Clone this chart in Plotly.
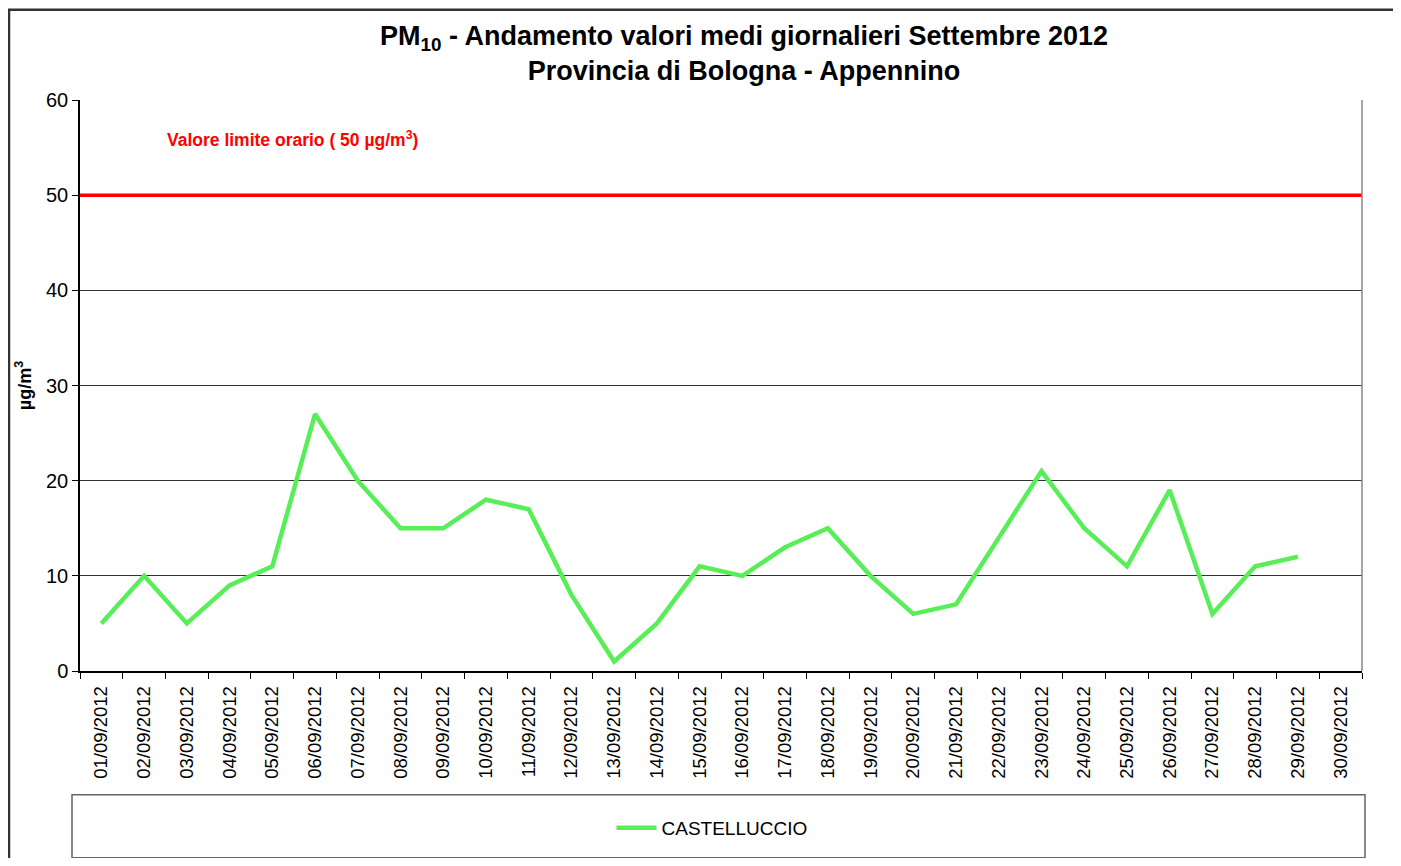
'''
PM10 daily means - Castelluccio, September 2012
'''
import plotly.graph_objects as go

# data
dates = ['%02d/09/2012' % d for d in range(1, 31)]
castelluccio = [5, 10, 5, 9, 11, 27, 20, 15, 15, 18, 17, 8, 1, 5, 11,
                10, 13, 15, 10, 6, 7, 14, 21, 15, 11, 19, 6, 11, 12, None]
limit_value = 50
y_ticks = [0, 10, 20, 30, 40, 50, 60]

FONT = 'Liberation Sans, Arial, sans-serif'

# page body has an 8px margin, so the figure is drawn 8px in from the corner
W, H = 1385, 850
L, T, PW, PH = 72, 92, 1282, 572


def px(x):
    # screen pixel x -> paper x
    return (x - 80) / PW


def py(y):
    # screen pixel y -> paper y
    return (672 - y) / PH


fig = go.Figure()

fig.add_trace(go.Scatter(
    x=dates, y=castelluccio, mode='lines', name='CASTELLUCCIO',
    line=dict(color='#58EE58', width=4.5), connectgaps=False
))

# limit line across the whole plot area
fig.add_shape(type='line', xref='paper', x0=0, x1=1, yref='y',
              y0=limit_value, y1=limit_value,
              line=dict(color='#FF0000', width=3.5), layer='above')

fig.add_annotation(
    text='Valore limite orario ( %d µg/m<sup>3</sup>)' % limit_value,
    xref='paper', yref='paper', x=px(165), y=py(139),
    xanchor='left', yanchor='middle', showarrow=False,
    font=dict(family=FONT, size=17.5, color='#FF0000', weight='bold')
)

# right border of plot area
fig.add_shape(type='line', xref='paper', yref='paper', x0=1, x1=1, y0=0, y1=1,
              line=dict(color='#888888', width=1.5))

# legend frame
fig.add_shape(type='rect', xref='paper', yref='paper',
              x0=px(72), x1=px(1365), y0=py(859), y1=py(796),
              line=dict(color='#666666', width=1.5), fillcolor='rgba(0,0,0,0)')

# outer frame of the chart
fig.add_shape(type='rect', xref='paper', yref='paper',
              x0=px(9), x1=px(1430), y0=py(900), y1=py(9.5),
              line=dict(color='#333333', width=2.5), fillcolor='rgba(0,0,0,0)')

fig.update_layout(
    width=W, height=H,
    margin=dict(l=L, r=W - L - PW, t=T, b=H - T - PH),
    paper_bgcolor='white', plot_bgcolor='white',
    font=dict(family=FONT, color='black'),
    title=dict(
        text='<b>PM<sub>10</sub> - Andamento valori medi giornalieri Settembre 2012<br>'
             'Provincia di Bologna - Appennino</b>',
        x=(744 - 8) / W, xanchor='center', xref='container',
        y=1 - 37 / H, yanchor='top',
        font=dict(family=FONT, size=27, color='black')
    ),
    showlegend=True,
    legend=dict(
        orientation='h', x=px(712), xanchor='center',
        y=py(828), yanchor='middle', itemwidth=40,
        font=dict(family=FONT, size=19, color='black'),
        bgcolor='rgba(0,0,0,0)'
    ),
    xaxis=dict(
        type='category', range=[-0.5, 29.5],
        tickson='boundaries', ticks='outside', ticklen=6, tickcolor='black',
        tickangle=-90, tickfont=dict(family=FONT, size=18.5),
        ticklabelstandoff=6,
        showgrid=False, showline=True, linecolor='black', linewidth=1.5,
        zeroline=False
    ),
    yaxis=dict(
        range=[0, 60], tickvals=y_ticks, ticks='outside', ticklen=6,
        tickcolor='black', tickfont=dict(family=FONT, size=20),
        showgrid=True, gridcolor='#333333', gridwidth=1,
        showline=True, linecolor='black', linewidth=1.5, zeroline=False,
        title=dict(text='<b>µg/m<sup>3</sup></b>', standoff=10,
                   font=dict(family=FONT, size=18))
    )
)

fig.write_html("out.html")
